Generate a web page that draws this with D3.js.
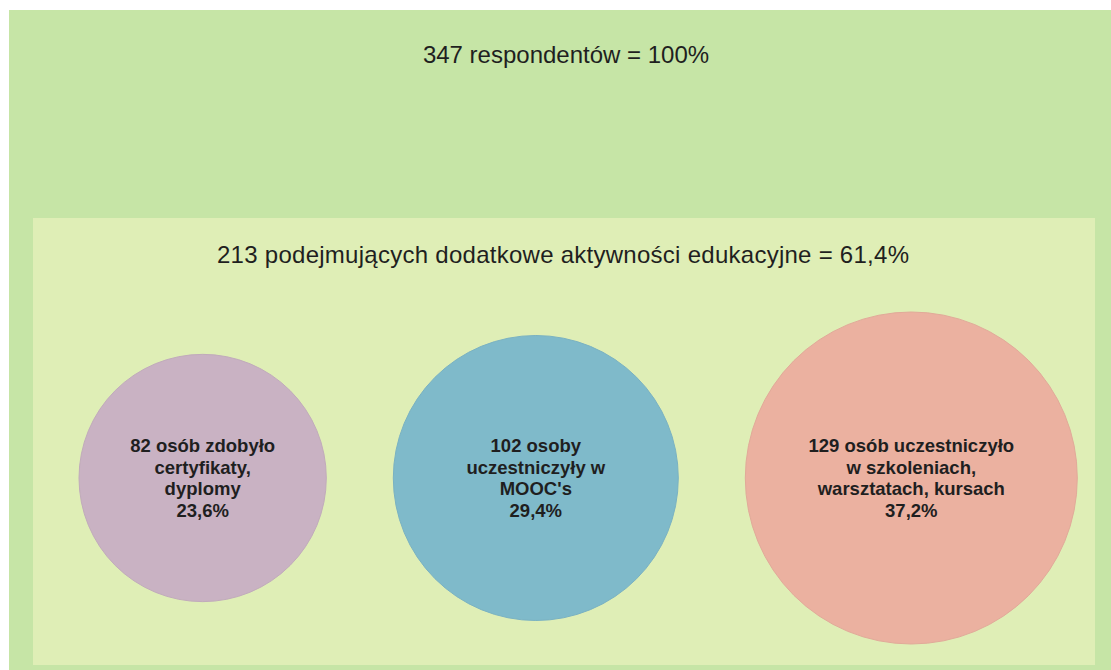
<!DOCTYPE html>
<html lang="pl">
<head>
    <meta charset="utf-8">
    <title>Aktywności edukacyjne</title>
    <style>
        body {
            margin: 0;
            background-color: #ffffff;
        }
        svg text {
            font-family: 'Liberation Sans', Arial, sans-serif;
            fill: #1f1f1f;
        }
    </style>
    <script src="https://d3js.org/d3.v7.min.js" charset="utf-8"></script>
</head>
<body>
    <svg id="chart" width="1111" height="670"></svg>

    <script type="text/javascript">
    // dane
    var totalCount = 347;
    var totalShare = 100;
    var activeCount = 213;
    var activeShare = 61.4;

    var counts = [82, 102, 129];
    var shares = [23.6, 29.4, 37.2];
    var descriptions = [
        ["osób zdobyło", "certyfikaty,", "dyplomy"],
        ["osoby", "uczestniczyły w", "MOOC's"],
        ["osób uczestniczyło", "w szkoleniach,", "warsztatach, kursach"]
    ];
    var colors = ["#c9b2c3", "#7fbaca", "#ebb1a0"];

    var pl = d3.formatLocale({decimal: ",", thousands: " ", grouping: [3], currency: ["", " zł"]});
    var pct = function (v) { return pl.format(".1f")(v) + "%"; };

    var svg = d3.select("#chart");

    // tło: wszyscy respondenci
    svg.append("rect")
        .attr("x", 9).attr("y", 10)
        .attr("width", 1102).attr("height", 660)
        .attr("fill", "#c6e5a6");

    svg.append("text")
        .attr("x", 566).attr("y", 63)
        .attr("text-anchor", "middle")
        .attr("font-size", 24)
        .text(totalCount + " respondentów = " + totalShare + "%");

    // podejmujący dodatkowe aktywności
    svg.append("rect")
        .attr("x", 33).attr("y", 218)
        .attr("width", 1062).attr("height", 447)
        .attr("fill", "#dfeeb6");

    svg.append("text")
        .attr("x", 563).attr("y", 263)
        .attr("text-anchor", "middle")
        .attr("font-size", 24)
        .attr("textLength", 692)
        .text(activeCount + " podejmujących dodatkowe aktywności edukacyjne = " + pl.format(".1f")(activeShare) + "%");

    // koła
    var r = d3.scalePow().exponent(0.65)
        .domain([0, d3.max(counts)])
        .range([0, 166]);

    var gap = 67, left = 79, cy = 478;
    var cx = [];
    var acc = left;
    counts.forEach(function (c) {
        cx.push(acc + r(c));
        acc += 2 * r(c) + gap;
    });

    var g = svg.selectAll("g.bubble")
        .data(counts)
        .join("g")
        .attr("class", "bubble")
        .attr("transform", function (d, i) { return "translate(" + cx[i] + "," + cy + ")"; });

    g.append("circle")
        .attr("r", function (d) { return r(d); })
        .attr("fill", function (d, i) { return colors[i]; })
        .attr("stroke", function (d, i) { return d3.color(colors[i]).darker(0.12); })
        .attr("stroke-width", 1);

    g.each(function (d, i) {
        var lines = descriptions[i].slice();
        lines[0] = d + " " + lines[0];
        lines.push(pct(shares[i]));
        var t = d3.select(this).append("text")
            .attr("text-anchor", "middle")
            .attr("font-size", 18.5)
            .attr("font-weight", "bold");
        lines.forEach(function (l, k) {
            t.append("tspan")
                .attr("x", 0)
                .attr("y", (k - (lines.length - 1) / 2) * 21.5 + 6.5)
                .text(l);
        });
    });
    </script>
</body>
</html>
